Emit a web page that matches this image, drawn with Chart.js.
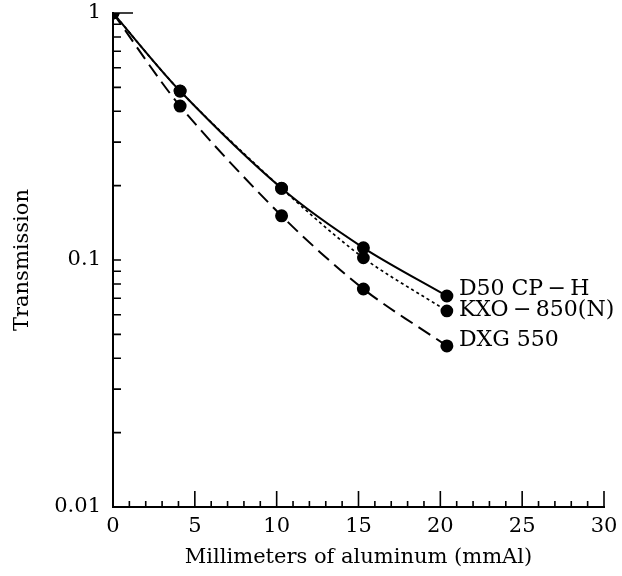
<!DOCTYPE html>
<html>
<head>
<meta charset="UTF-8">
<title>Transmission vs aluminum</title>
<script src="https://cdn.jsdelivr.net/npm/chart.js"></script>
<style>
  html, body { margin: 0; padding: 0; background: #fff; }
  #wrap { width: 622px; height: 576px; }
</style>
</head>
<body>
<div id="wrap"><canvas id="chart" width="622" height="576"></canvas></div>
<script>
  // values
  const thickness = [0, 4.1, 10.3, 15.3, 20.4];
  const d50 = [1.0, 0.483, 0.195, 0.112, 0.0715];
  const kxo = [1.0, 0.483, 0.195, 0.102, 0.0622];
  const dxg = [1.0, 0.42, 0.151, 0.0763, 0.0449];
  const seriesNames = ['D50 CP\u2009\u2212\u2009H', 'KXO\u2009\u2212\u2009850(N)', 'DXG 550'];
  const yTicks = [0.01, 0.02, 0.03, 0.04, 0.05, 0.06, 0.07, 0.08, 0.09,
                  0.1, 0.2, 0.3, 0.4, 0.5, 0.6, 0.7, 0.8, 0.9, 1];
  const yLabels = [0.01, 0.1, 1];

  const FONT = '"DejaVu Serif", "Liberation Serif", serif';

  function pts(ys) {
    return thickness.map((x, i) => ({ x: x, y: ys[i] }));
  }

  // ticks point inwards in the original, so draw them here
  const inTicks = {
    id: 'inTicks',
    afterDraw(chart) {
      const ctx = chart.ctx;
      const xs = chart.scales.x, ys = chart.scales.y;
      const a = chart.chartArea;
      ctx.save();
      ctx.strokeStyle = '#000';
      ctx.lineWidth = 1.6;
      ctx.beginPath();
      xs.ticks.forEach(t => {
        const px = xs.getPixelForValue(t.value);
        const len = t.value % 5 === 0 ? 16 : 6;
        ctx.moveTo(px, a.bottom);
        ctx.lineTo(px, a.bottom - len);
      });
      ys.ticks.forEach(t => {
        const py = ys.getPixelForValue(t.value);
        const len = t.value === 1 ? 20 : 8;
        ctx.moveTo(a.left, py);
        ctx.lineTo(a.left + len, py);
      });
      ctx.stroke();

      // series names next to the last points
      ctx.fillStyle = '#000';
      ctx.font = '22px ' + FONT;
      ctx.textBaseline = 'middle';
      const dy = [-7, -1, -6];
      chart.data.datasets.forEach((ds, i) => {
        const last = ds.data[ds.data.length - 1];
        const px = xs.getPixelForValue(last.x) + 12;
        const py = ys.getPixelForValue(last.y) + dy[i];
        ctx.fillText(seriesNames[i], px, py);
      });
      ctx.restore();
    }
  };

  const common = {
    borderColor: '#000',
    backgroundColor: '#000',
    pointBackgroundColor: '#000',
    pointBorderColor: '#000',
    pointRadius: 5.5,
    pointHoverRadius: 5.5,
    fill: false,
    tension: 0.3
  };

  new Chart(document.getElementById('chart'), {
    type: 'line',
    data: {
      datasets: [
        Object.assign({}, common, { label: seriesNames[0], data: pts(d50), borderWidth: 2 }),
        Object.assign({}, common, { label: seriesNames[1], data: pts(kxo), borderWidth: 1.7, borderDash: [3, 3] }),
        Object.assign({}, common, { label: seriesNames[2], data: pts(dxg), borderWidth: 2, borderDash: [14, 7] })
      ]
    },
    options: {
      responsive: false,
      animation: false,
      layout: { padding: { top: 13, right: 18, left: 0, bottom: 0 } },
      plugins: {
        legend: { display: false },
        tooltip: { enabled: false }
      },
      scales: {
        x: {
          type: 'linear',
          min: 0,
          max: 30,
          afterFit(s) { s.height = 69; s.paddingLeft = 0; s.paddingRight = 0; },
          grid: { display: false, drawTicks: false },
          border: { display: true, color: '#000', width: 2 },
          ticks: {
            stepSize: 1,
            autoSkip: false,
            maxRotation: 0,
            padding: 7,
            color: '#000',
            font: { family: FONT, size: 21 },
            callback: v => (v % 5 === 0 ? String(v) : '')
          },
          title: {
            display: true,
            text: 'Millimeters of aluminum (mmAl)',
            color: '#000',
            font: { family: FONT, size: 21 },
            padding: { top: 0, bottom: 6 }
          }
        },
        y: {
          type: 'logarithmic',
          min: 0.01,
          max: 1,
          afterFit(s) { s.width = 113; s.paddingTop = 0; s.paddingBottom = 0; },
          afterBuildTicks(s) { s.ticks = yTicks.map(v => ({ value: v })); },
          grid: { display: false, drawTicks: false },
          border: { display: true, color: '#000', width: 2 },
          ticks: {
            autoSkip: false,
            padding: 12,
            color: '#000',
            font: { family: FONT, size: 21 },
            callback: v => (yLabels.includes(v) ? String(v) : '')
          },
          title: {
            display: true,
            text: 'Transmission',
            color: '#000',
            font: { family: FONT, size: 21 },
            padding: { top: 10, bottom: 0 }
          }
        }
      }
    },
    plugins: [inTicks]
  });
</script>
</body>
</html>
